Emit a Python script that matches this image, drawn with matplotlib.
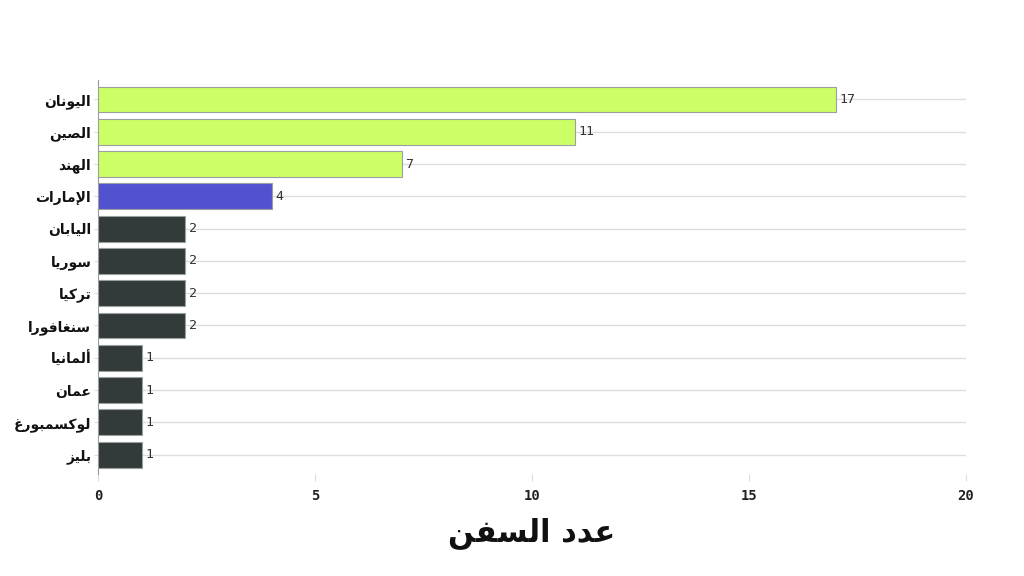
import matplotlib
matplotlib.use("Agg")
import matplotlib.pyplot as plt

countries = ["اليونان", "الصين", "الهند", "الإمارات", "اليابان", "سوريا",
             "تركيا", "سنغافورا", "ألمانيا", "عمان", "لوكسمبورغ", "بليز"]
ships = [17, 11, 7, 4, 2, 2, 2, 2, 1, 1, 1, 1]
bar_colors = ["#ccff66", "#ccff66", "#ccff66", "#5252d0"] + ["#333a3a"] * 8
xlabel_text = "عدد السفن"
xticks = [0, 5, 10, 15, 20]

# --- minimal Arabic shaping (presentation forms) + RTL reorder ---
FORMS = {
    'ا': (0xFE8D, 0xFE8E, None, None), 'أ': (0xFE83, 0xFE84, None, None),
    'إ': (0xFE87, 0xFE88, None, None), 'د': (0xFEA9, 0xFEAA, None, None),
    'ر': (0xFEAD, 0xFEAE, None, None), 'ز': (0xFEAF, 0xFEB0, None, None),
    'و': (0xFEED, 0xFEEE, None, None),
    'ب': (0xFE8F, 0xFE90, 0xFE91, 0xFE92), 'ت': (0xFE95, 0xFE96, 0xFE97, 0xFE98),
    'س': (0xFEB1, 0xFEB2, 0xFEB3, 0xFEB4), 'ص': (0xFEB9, 0xFEBA, 0xFEBB, 0xFEBC),
    'ع': (0xFEC9, 0xFECA, 0xFECB, 0xFECC), 'غ': (0xFECD, 0xFECE, 0xFECF, 0xFED0),
    'ف': (0xFED1, 0xFED2, 0xFED3, 0xFED4), 'ك': (0xFED9, 0xFEDA, 0xFEDB, 0xFEDC),
    'ل': (0xFEDD, 0xFEDE, 0xFEDF, 0xFEE0), 'م': (0xFEE1, 0xFEE2, 0xFEE3, 0xFEE4),
    'ن': (0xFEE5, 0xFEE6, 0xFEE7, 0xFEE8), 'ه': (0xFEE9, 0xFEEA, 0xFEEB, 0xFEEC),
    'ي': (0xFEF1, 0xFEF2, 0xFEF3, 0xFEF4),
}
LAMALEF = {'ا': (0xFEFB, 0xFEFC), 'أ': (0xFEF7, 0xFEF8), 'إ': (0xFEF9, 0xFEFA)}


def shape(word):
    out = []
    chars = list(word)
    i = 0
    n = len(chars)
    def dual(c):
        return c in FORMS and FORMS[c][2] is not None
    while i < n:
        c = chars[i]
        prev_joins = i > 0 and dual(chars[i - 1]) and not (out and out[-1][1] == 'la')
        if c not in FORMS:
            out.append((c, 'x')); i += 1; continue
        if c == 'ل' and i + 1 < n and chars[i + 1] in LAMALEF:
            iso, fin = LAMALEF[chars[i + 1]]
            out.append((chr(fin if prev_joins else iso), 'la'))
            i += 2
            continue
        iso, fin, ini, med = FORMS[c]
        next_ok = i + 1 < n and chars[i + 1] in FORMS
        if ini is None:
            g = fin if prev_joins else iso
        else:
            if prev_joins and next_ok:
                g = med
            elif prev_joins:
                g = fin
            elif next_ok:
                g = ini
            else:
                g = iso
        out.append((chr(g), 'c'))
        i += 1
    return ''.join(ch for ch, _ in out)[::-1]


def ar(text):
    return ' '.join(shape(w) for w in text.split(' ')[::-1])


fig = plt.figure(figsize=(10.24, 5.76), dpi=100)
ax = fig.add_axes([0.096, 0.177, 0.847, 0.684])

ypos = list(range(len(countries)))
ax.barh(ypos, ships, height=0.8, color=bar_colors, edgecolor="#9aa0a0",
        linewidth=0.8, zorder=3)
for y, v in zip(ypos, ships):
    ax.text(v + 0.08, y, str(v), va="center", ha="left", fontsize=9.5,
            color="#333333", family="DejaVu Sans Mono", zorder=4)

ax.set_xlim(0, 20)
ax.set_ylim(len(countries) - 0.4, -0.6)
ax.set_yticks(ypos)
ax.set_yticklabels([ar(c) for c in countries], fontsize=10,
                   fontweight="bold", family="DejaVu Sans", color="#111111")
ax.set_xticks(xticks)
ax.set_xticklabels([str(t) for t in xticks], family="DejaVu Sans Mono",
                   fontweight="bold", fontsize=10, color="#222222")
ax.grid(axis="y", color="#dddddd", linewidth=1, zorder=0)
ax.grid(axis="x", visible=False)
for s in ["top", "right", "bottom"]:
    ax.spines[s].set_visible(False)
ax.spines["left"].set_color("#999999")
ax.tick_params(axis="y", length=3, color="#dddddd", pad=2)
ax.tick_params(axis="x", length=5, color="#dddddd", pad=6)
ax.set_xlabel(ar(xlabel_text), fontsize=22, fontweight="bold",
              family="DejaVu Sans", labelpad=10, color="#111111")

fig.savefig("out.png", dpi=100, facecolor="white")
